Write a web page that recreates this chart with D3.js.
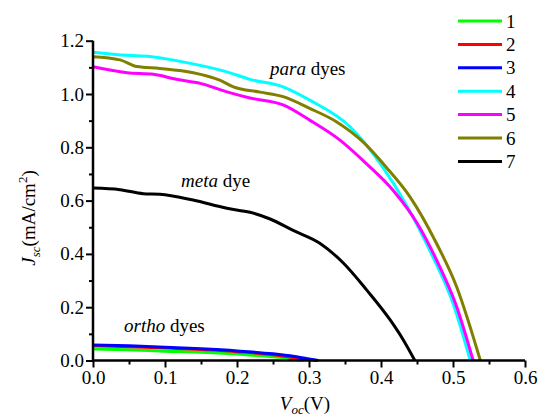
<!DOCTYPE html>
<html>
<head>
<meta charset="utf-8">
<script src="https://cdn.jsdelivr.net/npm/d3@7"></script>
<style>
	body { margin: 0; background: #fff; }
	text { font-family: "Liberation Serif", "Times New Roman", serif; fill: #000; }
</style>
</head>
<body>
<div class="container"></div>
<script>
// J-V curves (V in volts, J in mA/cm2)
var names = ["1", "2", "3", "4", "5", "6", "7"];
var colors = ["#00ff00", "#ff0000", "#0000ff", "#00ffff", "#ff00ff", "#808000", "#000000"];

var v1 = [0, 0.05, 0.1, 0.15, 0.2, 0.25, 0.28, 0.292];
var j1 = [0.043, 0.040, 0.035, 0.031, 0.024, 0.014, 0.006, 0];
var v2 = [0, 0.05, 0.1, 0.15, 0.2, 0.25, 0.28, 0.30, 0.31];
var j2 = [0.055, 0.052, 0.047, 0.041, 0.033, 0.022, 0.011, 0.004, 0];
var v3 = [0, 0.05, 0.1, 0.15, 0.2, 0.25, 0.28, 0.30, 0.313];
var j3 = [0.058, 0.055, 0.050, 0.044, 0.036, 0.025, 0.015, 0.006, 0];
var v4 = [0, 0.047, 0.079, 0.11, 0.139, 0.186, 0.218, 0.264, 0.301, 0.357, 0.40, 0.436, 0.47, 0.50, 0.524];
var j4 = [1.157, 1.145, 1.141, 1.128, 1.113, 1.083, 1.055, 1.027, 0.977, 0.877, 0.735, 0.58, 0.40, 0.215, 0];
var v5 = [0, 0.047, 0.084, 0.116, 0.149, 0.186, 0.218, 0.264, 0.301, 0.343, 0.38, 0.417, 0.45, 0.477, 0.505, 0.528];
var j5 = [1.102, 1.08, 1.074, 1.055, 1.04, 1.008, 0.985, 0.959, 0.902, 0.827, 0.738, 0.638, 0.516, 0.378, 0.203, 0];
var v6 = [0, 0.0375, 0.061, 0.093, 0.139, 0.176, 0.195, 0.232, 0.264, 0.301, 0.338, 0.375, 0.407, 0.44, 0.477, 0.505, 0.538];
var j6 = [1.14, 1.128, 1.103, 1.096, 1.08, 1.052, 1.027, 1.007, 0.99, 0.946, 0.896, 0.82, 0.726, 0.615, 0.44, 0.277, 0];
var v7 = [0, 0.0375, 0.07, 0.093, 0.139, 0.186, 0.218, 0.246, 0.278, 0.315, 0.348, 0.38, 0.4125, 0.431, 0.447];
var j7 = [0.647, 0.641, 0.626, 0.624, 0.602, 0.571, 0.556, 0.531, 0.488, 0.44, 0.365, 0.265, 0.153, 0.077, 0];

var xTicks = [0, 0.1, 0.2, 0.3, 0.4, 0.5, 0.6];
var yTicks = [0, 0.2, 0.4, 0.6, 0.8, 1.0, 1.2];

var allV = [v1, v2, v3, v4, v5, v6, v7];
var allJ = [j1, j2, j3, j4, j5, j6, j7];

var W = 539, H = 418;

var x = d3.scaleLinear().domain([0, 0.6]).range([93, 525]);
var y = d3.scaleLinear().domain([0, 1.2]).range([360.5, 40.7]);

function makeStage(w, h) {
	return d3.select(".container")
	.insert("svg")
	.attr("width", w)
	.attr("height", h);
}

function drawAxes(stage) {
	// minor ticks first, then the major ticks with labels on top
	var xMinor = stage.append("g")
	.attr("transform", "translate(0," + y(0) + ")")
	.call(d3.axisBottom(x).tickValues(d3.range(0.05, 0.6, 0.1)).tickSize(4).tickFormat(""));
	var xMajor = stage.append("g")
	.attr("transform", "translate(0," + y(0) + ")")
	.call(d3.axisBottom(x).tickValues(xTicks).tickSize(7).tickPadding(3).tickFormat(d3.format(".1f")));

	var yMinor = stage.append("g")
	.attr("transform", "translate(" + x(0) + ",0)")
	.call(d3.axisLeft(y).tickValues(d3.range(0.1, 1.2, 0.2)).tickSize(4).tickFormat(""));
	var yMajor = stage.append("g")
	.attr("transform", "translate(" + x(0) + ",0)")
	.call(d3.axisLeft(y).tickValues(yTicks).tickSize(7).tickPadding(2).tickFormat(d3.format(".1f")));

	[xMinor, xMajor, yMinor, yMajor].forEach(function(g) {
		g.select(".domain").attr("stroke", "#000").attr("stroke-width", 2.5);
		g.selectAll(".tick line").attr("stroke", "#000").attr("stroke-width", 2);
		g.selectAll(".tick text").style("font-size", "19px").style("font-family", "Liberation Serif");
	});
	// no outer tick caps on the spines
	xMajor.select(".domain").attr("d", "M" + x(0) + ",0H" + x(0.6));
	xMinor.select(".domain").remove();
	yMajor.select(".domain").attr("d", "M0," + y(0) + "V" + y(1.2));
	yMinor.select(".domain").remove();
}

function drawCurves(stage) {
	var line = d3.line()
	.x(function(d) { return x(d[0]); })
	.y(function(d) { return y(d[1]); })
	.curve(d3.curveMonotoneX);

	for (var i = 0; i < allV.length; i++) {
		var pts = allV[i].map(function(v, k) { return [v, allJ[i][k]]; });
		stage.append("path")
		.datum(pts)
		.attr("d", line)
		.attr("fill", "none")
		.attr("stroke", colors[i])
		.attr("stroke-width", 3)
		.attr("stroke-linejoin", "round");
	}
}

function drawLegend(stage) {
	var leg = stage.append("g");
	names.forEach(function(n, i) {
		var ly = 21 + i * 23.4;
		leg.append("line")
		.attr("x1", 458).attr("x2", 502)
		.attr("y1", ly).attr("y2", ly)
		.attr("stroke", colors[i])
		.attr("stroke-width", 3);
		leg.append("text")
		.attr("x", 506).attr("y", ly + 6.5)
		.style("font-size", "19px")
		.text(n);
	});
}

function label(stage, px, py, italicPart, rest) {
	var t = stage.append("text")
	.attr("x", px).attr("y", py)
	.style("font-size", "19px");
	t.append("tspan").style("font-style", "italic").text(italicPart);
	t.append("tspan").text(rest);
}

function drawTitles(stage) {
	label(stage, 270, 75, "para", " dyes");
	label(stage, 181, 187, "meta", " dye");
	label(stage, 124, 332, "ortho", " dyes");

	// x title: V_oc(V), sits right at the bottom edge like the original
	var xt = stage.append("text")
	.attr("x", 305).attr("y", 410)
	.attr("text-anchor", "middle")
	.style("font-size", "19px");
	xt.append("tspan").style("font-style", "italic").text("V");
	xt.append("tspan").attr("dy", 4).style("font-size", "13px").style("font-style", "italic").text("oc");
	xt.append("tspan").attr("dy", -4).text("(V)");

	// y title: J_sc(mA/cm^2), rotated
	var yt = stage.append("text")
	.attr("transform", "translate(35,218) rotate(-90)")
	.attr("text-anchor", "middle")
	.style("font-size", "19px");
	yt.append("tspan").style("font-style", "italic").text("J");
	yt.append("tspan").attr("dy", 5).style("font-size", "13px").style("font-style", "italic").text("sc");
	yt.append("tspan").attr("dy", -5).text("(mA/cm");
	yt.append("tspan").attr("dy", -8).style("font-size", "13px").text("2");
	yt.append("tspan").attr("dy", 8).text(")");
}

var mystage = makeStage(W, H);
drawCurves(mystage);
drawAxes(mystage);
drawLegend(mystage);
drawTitles(mystage);
</script>
</body>
</html>
